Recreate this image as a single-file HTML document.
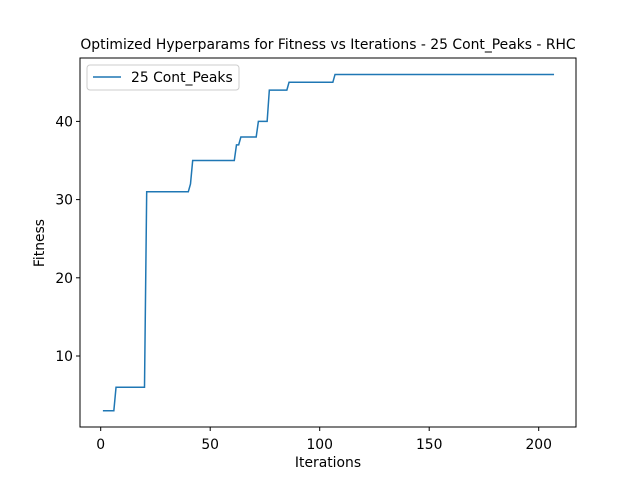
<!DOCTYPE html>
<html><head><meta charset="utf-8"><style>body{margin:0;background:#fff}svg{display:block;font-family:"DejaVu Sans","Liberation Sans",sans-serif}</style></head>
<body>
<svg id="chart" width="640" height="480">
<rect width="640" height="480" fill="#fff"/>
<text x="328" y="49" font-size="13.9" text-anchor="middle">Optimized Hyperparams for Fitness vs Iterations - 25 Cont_Peaks - RHC</text>
<g id="ticks"></g>
<polyline id="line" fill="none" stroke="#1f77b4" stroke-width="1.5"/>
<rect x="80" y="58" width="496" height="369" fill="none" stroke="#000" stroke-width="1"/>
<text x="328" y="467" font-size="13.9" text-anchor="middle">Iterations</text>
<text x="44" y="243" font-size="13.9" text-anchor="middle" transform="rotate(-90 44 243)">Fitness</text>
<g>
<rect x="87" y="65" width="152" height="25" rx="3" fill="#fff" stroke="#ccc"/>
<line x1="93" y1="77" x2="121" y2="77" stroke="#1f77b4" stroke-width="1.5"/>
<text x="131" y="82" font-size="13.9">25 Cont_Peaks</text>
</g>
</svg>
<script>
const iterations=[1,6,7,20,21,40,41,42,61,62,63,64,71,72,76,77,85,86,106,107,207];
const fitness=[3,3,6,6,31,31,32,35,35,37,37,38,38,40,40,44,44,45,45,46,46];
const xTicks=[0,50,100,150,200];
const yTicks=[10,20,30,40];
const X=v=>100.7+v*2.19;
const Y=v=>434.2-v*7.82;
const ns="http://www.w3.org/2000/svg";
const g=document.getElementById('ticks');
function mk(t,a){const e=document.createElementNS(ns,t);for(const k in a)e.setAttribute(k,a[k]);g.appendChild(e);return e;}
xTicks.forEach(v=>{
 const l=mk('line',{x1:X(v),x2:X(v),y1:427,y2:431,stroke:'#000'});
 
 
 const t=mk('text',{x:X(v),y:449,'font-size':13.9,'text-anchor':'middle'});t.textContent=v;
 
 
});
yTicks.forEach(v=>{
 const l=mk('line',{x1:76,x2:80,y1:Y(v),y2:Y(v),stroke:'#000'});
 
 
 const t=mk('text',{x:73,y:Y(v)+5,'font-size':13.9,'text-anchor':'end'});t.textContent=v;
 
 
});
document.getElementById('line').setAttribute('points',iterations.map((v,i)=>X(v)+','+Y(fitness[i])).join(' '));
</script>
</body></html>
